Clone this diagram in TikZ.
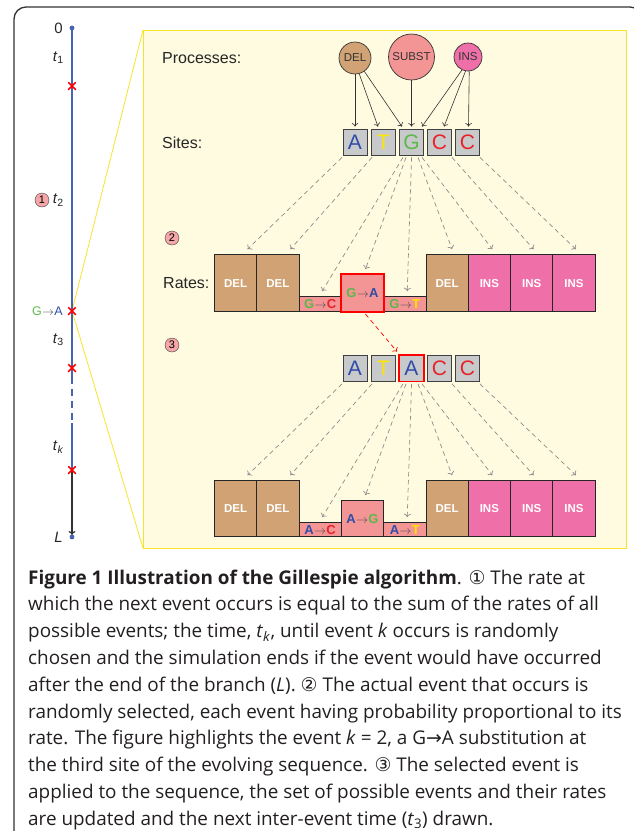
\documentclass[tikz,border=0pt]{standalone}
\usepackage{fontspec}
\setmainfont{Liberation Sans}
\newfontfamily\capfont{Open Sans}
\newfontfamily\symfont{DejaVu Sans}
\usetikzlibrary{arrows,arrows.meta,shapes,positioning}
\definecolor{delcol}{HTML}{D0A274}
\definecolor{substcol}{HTML}{F29594}
\definecolor{inscol}{HTML}{EF70A9}
\definecolor{numcol}{HTML}{F4A6A8}
\definecolor{nucA}{HTML}{2F4DA8}
\definecolor{nucT}{HTML}{FFE400}
\definecolor{nucG}{HTML}{5CB84A}
\definecolor{nucC}{HTML}{E8232A}
\definecolor{panel}{HTML}{FEFBE0}
\definecolor{paneledge}{HTML}{F5E52A}
\definecolor{branch}{HTML}{4863B0}
\definecolor{sitegray}{HTML}{C8C9CB}
\definecolor{capcol}{HTML}{231F20}
\newcommand{\mutate}[2]{\textcolor{nuc#1}{#1}\kern0.3pt{\color{black!70}$\rightarrow$}\kern0.3pt\textcolor{nuc#2}{#2}}
\newcommand{\evtime}[1]{\textit{t}\textsubscript{#1}}
\tikzstyle{site}=[draw=black!75,fill=sitegray,line width=0.8pt,minimum width=24pt,minimum height=26pt,inner sep=0pt,font=\fontsize{21}{21}\selectfont]
\tikzstyle{process}=[circle,draw=black!80,line width=0.7pt,inner sep=0pt,text=black!80,font=\fontsize{11.5}{11.5}\selectfont]
\tikzstyle{rate}=[draw=black!85,line width=0.8pt,anchor=south west,minimum width=42.3pt,inner sep=0pt,font=\bfseries\fontsize{11.5}{12}\selectfont]
\tikzstyle{delrate}=[rate,fill=delcol,text=white]
\tikzstyle{insrate}=[rate,fill=inscol,text=white]
\tikzstyle{substrate}=[rate,fill=substcol,font=\bfseries\fontsize{13}{13}\selectfont]
\tikzstyle{event}=[cross out,draw=red,line width=1.5pt,minimum size=6pt,inner sep=0pt]
\tikzstyle{branchline}=[draw=branch,line width=1.5pt]
\tikzstyle{procarrow}=[draw=black!80,line width=0.6pt,-{To[length=3.5pt,width=6.5pt]}]
\tikzstyle{flowarrow}=[draw=black!45,line width=0.7pt,dash pattern=on 4.5pt off 3.5pt,-{To[length=3.5pt,width=7pt]}]
\tikzstyle{num}=[circle,draw=black!75,fill=numcol,minimum size=14pt,inner sep=0pt,font=\fontsize{11}{11}\selectfont]
\tikzstyle{tlabel}=[anchor=east,inner sep=0pt,font=\fontsize{15}{15}\selectfont,text=black!85]
\tikzstyle{rowlabel}=[anchor=west,inner sep=0pt,font=\fontsize{16}{16}\selectfont,text=black!85]
\tikzstyle{capline}=[anchor=base west,inner sep=0pt,text=capcol,font=\capfont\fontsize{18.9}{22}\selectfont]
\pgfdeclarelayer{background}
\pgfsetlayers{background,main}
\begin{document}
\begin{tikzpicture}[x=1pt,y=-1pt]
\useasboundingbox (0,0) rectangle (633,831);

% Frame round figure and caption
\draw[black!80,line width=1.3pt,rounded corners=12pt] (14,845) -- (14,7) -- (642,7) -- (642,845);

% Time line of the branch
\coordinate (top) at (72,28);
\coordinate (gapA) at (72,377);
\coordinate (gapB) at (72,423);
\coordinate (bot) at (72,537);
\foreach \y/\name in {86/c1,311/c2,368/c3,470/c4}
\node[event] (\name) at (72,\y) {};

\begin{pgfonlayer}{background}
\draw[paneledge,line width=0.8pt] (143,30) -- (c2.center) -- (143,548);
\path[branchline] (top) -- (gapA);
\path[branchline,dash pattern=on 7pt off 5pt] (gapA) -- (gapB);
\path[branchline] (gapB) -- (c4.center);
\draw[black!80,line width=1.2pt,-{To[length=4pt,width=7pt]}] (c4.center) -- ([yshift=2pt]bot);
\end{pgfonlayer}
\fill[branch] (top) circle (2.4);
\fill[branch] (bot) circle (2.4);

\node[tlabel] at (63,28) {0};
\node[tlabel] at (64,58) {\evtime{1}};
\node[tlabel] (t2) at (64,200) {\evtime{2}};
\node[num] at (42,200) {1};
\node[tlabel,font=\fontsize{12.5}{12.5}\selectfont] at (63,311) {\mutate{G}{A}};
\node[tlabel] at (64,340) {\evtime{3}};
\node[tlabel] at (64,447) {\evtime{\textit{k}}};
\node[tlabel] at (63,537) {\textit{L}};

% Zoomed panel
\draw[paneledge,fill=panel,line width=0.8pt] (143,30) rectangle (626,548);

\node[rowlabel] at (162,58) {Processes:};
\node[rowlabel] at (162,143) {Sites:};
\node[rowlabel] at (163,283) {Rates:};
\node[num] at (172,238) {2};
\node[num] at (172,345) {3};

% Processes
\node[process,fill=delcol,minimum size=32pt] (pDel) at (355,58) {DEL};
\node[process,fill=substcol,minimum size=46pt] (pSub) at (411.5,57) {SUBST};
\node[process,fill=inscol,minimum size=28pt] (pIns) at (468,57) {INS};

% Sites before and after the event
\foreach \pos/\name/\letter in {355/sA/A,383.5/sT/T,411.5/sG/G,439.5/sC/C,467.5/sCC/C}
\node[site,text=nuc\letter] (\name) at (\pos,142) {\letter};
\foreach \pos/\name/\letter in {355/tA/A,383.5/tT/T,411.5/tG/A,439.5/tC/C,467.5/tCC/C}
\node[site,text=nuc\letter] (\name) at (\pos,368) {\letter};

\path[procarrow] (pDel.south) -- ([yshift=2pt]sA.north);
\path[procarrow] (pDel.-75) -- ([xshift=-5.5pt,yshift=2pt]sT.north);
\path[procarrow] (pDel.-55) -- ([xshift=-9.5pt,yshift=2pt]sG.north);
\path[procarrow] (pSub.south) -- ([yshift=2pt]sG.north);
\path[procarrow] (pIns.-115) -- ([xshift=10.5pt,yshift=2pt]sG.north);
\path[procarrow] (pIns.-100) -- ([xshift=4.5pt,yshift=2pt]sC.north);
\path[procarrow] (pIns.-85) -- ([xshift=1pt,yshift=2pt]sCC.north);

% Rates of the possible events
\foreach \x/\name/\h/\kind/\lab in {214/d1/57/delrate/DEL,
256.3/d2/57/delrate/DEL,
298.6/s1/15/substrate/\mutate{G}{C},
340.9/s2/37/substrate/\mutate{G}{A},
383.2/s3/15/substrate/\mutate{G}{T},
425.5/d3/57/delrate/DEL,
467.8/i1/57/insrate/INS,
510.1/i2/57/insrate/INS,
552.4/i3/57/insrate/INS}
\node[\kind,minimum height=\h pt] (\name) at (\x,312) {\lab};

\foreach \x/\name/\h/\kind/\lab in {214/e1/56/delrate/DEL,
256.3/e2/56/delrate/DEL,
298.6/u1/14/substrate/\mutate{A}{C},
340.9/u2/36/substrate/\mutate{A}{G},
383.2/u3/14/substrate/\mutate{A}{T},
425.5/e3/56/delrate/DEL,
467.8/j1/56/insrate/INS,
510.1/j2/56/insrate/INS,
552.4/j3/56/insrate/INS}
\node[\kind,minimum height=\h pt] (\name) at (\x,537) {\lab};

% Connect sites with their events
\foreach \src/\sx/\dst/\dx in {sA/-13/d1/12,sT/-11.5/d2/12.5,sG/-8.5/s1/2,sG/-5.5/s2/3,sG/0/s3/2.5,sG/6.5/d3/5,sG/10.5/i1/3,sC/12.5/i2/2,sCC/12.5/i3/2}
\path[flowarrow] ([xshift=\sx pt,yshift=-2pt]\src.south) -- ([xshift=\dx pt,yshift=5pt]\dst.north);
\foreach \src/\sx/\dst/\dx in {tA/-13/e1/12,tT/-11.5/e2/12.5,tG/-8.5/u1/2,tG/-5.5/u2/3,tG/0/u3/2.5,tG/6.5/e3/5,tG/10.5/j1/3,tC/12.5/j2/2,tCC/12.5/j3/2}
\path[flowarrow] ([xshift=\sx pt,yshift=-2.5pt]\src.south) -- ([xshift=\dx pt,yshift=5pt]\dst.north);

% Selected event
\draw[red,line width=1.8pt] (s2.south west) rectangle (s2.north east);
\draw[red,line width=1.8pt] (tG.south west) rectangle (tG.north east);
\path[flowarrow,draw=red] ([xshift=3pt,yshift=-2pt]s2.south) -- ([xshift=-14.5pt,yshift=3pt]tG.north);

% Caption
\foreach \y/\txt in {584/{{\bfseries Figure 1 Illustration of the Gillespie algorithm}. {\symfont ①} The rate at},
610.8/{which the next event occurs is equal to the sum of the rates of all},
637.6/{possible events; the time, \evtime{\textit{k}}, until event \textit{k} occurs is randomly},
664.4/{chosen and the simulation ends if the event would have occurred},
691.2/{after the end of the branch (\textit{L}). {\symfont ②} The actual event that occurs is},
718/{randomly selected, each event having probability proportional to its},
744.8/{rate. The figure highlights the event \textit{k} = 2, a G{\symfont →}A substitution at},
771.6/{the third site of the evolving sequence. {\symfont ③} The selected event is},
798.4/{applied to the sequence, the set of possible events and their rates},
825.2/{are updated and the next inter-event time (\evtime{3}) drawn.}}
\node[capline] at (28,\y) {\txt};

\end{tikzpicture}
\end{document}
